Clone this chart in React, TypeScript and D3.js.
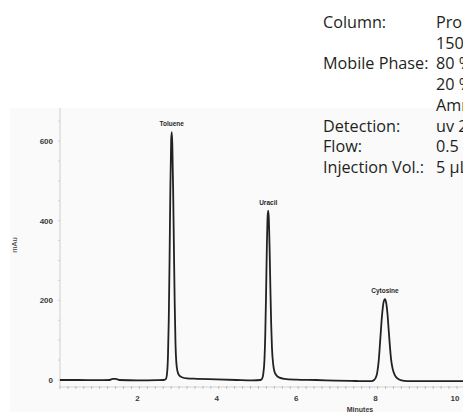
import React from "react";
import * as d3 from "d3";

// Chromatogram trace: retention time (min) and signal (mAU)
const traceTime = [
  0.05, 0.5, 1.0, 1.3, 1.38, 1.45, 1.55, 2.0, 2.5, 2.66, 2.72, 2.75, 2.77, 2.79, 2.81, 2.83, 2.85,
  2.865, 2.88, 2.9, 2.92, 2.94, 2.96, 2.98, 3.01, 3.05, 3.12, 3.25, 3.5, 4.0, 4.5, 4.9, 5.1, 5.14,
  5.17, 5.2, 5.22, 5.24, 5.26, 5.28, 5.295, 5.31, 5.33, 5.35, 5.37, 5.39, 5.42, 5.45, 5.5, 5.58,
  5.7, 6.0, 6.5, 7.0, 7.5, 7.9, 7.96, 8.0, 8.04, 8.08, 8.12, 8.16, 8.2, 8.235, 8.27, 8.3, 8.33,
  8.36, 8.39, 8.43, 8.48, 8.55, 8.65, 8.8, 9.5, 10.4,
];
const traceSignal = [
  0, 0, -0.5, 0, 3, 3, 0, -1, -0.5, 0, 3, 20, 60, 150, 300, 480, 600, 622, 590, 480, 330, 190, 90,
  45, 22, 12, 7, 4, 3, 1.5, 0, -1, 0, 3, 15, 50, 110, 210, 330, 410, 425, 405, 330, 230, 140, 80,
  40, 22, 12, 6, 3, 1, 0, -1.5, -2.5, -3, 0, 5, 18, 50, 105, 160, 195, 203, 192, 165, 125, 85, 52,
  28, 13, 4, -1, -3, -3, -3,
];

const peakNames = ["Toluene", "Uracil", "Cytosine"];
const peakTimes = [2.865, 5.295, 8.235];
const peakHeights = [622, 425, 203];

const xTicks = [2, 4, 6, 8, 10];
const yTicks = [0, 200, 400, 600];

const condLabels = ["Column:", "", "Mobile Phase:", "", "", "Detection:", "Flow:", "Injection Vol.:"];
const condValues = [
  "ProntoSIL",
  "150 x 4.6 mm",
  "80 % Acetonitrile",
  "20 % 10 mM",
  "Ammonium Acetate",
  "uv 254 nm",
  "0.5 mL/min",
  "5 µL",
];

export default function App() {
  const W = 463;
  const H = 412;
  const x = d3.scaleLinear().domain([0, 10]).range([58, 455]);
  const y = d3.scaleLinear().domain([0, 600]).range([380, 141]);

  const pts = traceTime.map((t, i) => [t, traceSignal[i]] as [number, number]);
  const line = d3
    .line<[number, number]>()
    .x((d) => x(d[0]))
    .y((d) => y(d[1]))
    .curve(d3.curveMonotoneX);

  const axisY = 387;
  const minorX = d3.range(0.05, 10.4, 0.2);

  return (
    <svg
      width={W}
      height={H}
      style={{ position: "absolute", left: 0, top: 0, background: "#fff" }}
    >
      <rect x={10} y={108} width={W - 10} height={H - 108} fill="#fafafa" />
      {/* y axis */}
      <line x1={60} x2={60} y1={108} y2={axisY} stroke="#cfcfcf" strokeWidth={1} />
      {d3.range(0, 680, 50).map((v) => (
        <line key={"ym" + v} x1={58} x2={60} y1={y(v)} y2={y(v)} stroke="#d0d0d0" />
      ))}
      {/* x axis */}
      <line x1={60} x2={W} y1={axisY} y2={axisY} stroke="#d4d4d4" strokeWidth={1} />
      {minorX.map((t, i) => (
        <line
          key={"xm" + i}
          x1={x(t)}
          x2={x(t)}
          y1={axisY - 1}
          y2={axisY + 2}
          stroke="#bdbdbd"
          strokeWidth={1}
        />
      ))}
      {xTicks.map((t) => (
        <text
          key={"xt" + t}
          x={x(t)}
          y={401}
          textAnchor="middle"
          fontFamily="Arial, Liberation Sans, sans-serif"
          fontWeight="bold"
          fontSize={8}
          fill="#3a3a3a"
        >
          {t}
        </text>
      ))}
      {yTicks.map((v) => (
        <text
          key={"yt" + v}
          x={53}
          y={y(v) + 3}
          textAnchor="end"
          fontFamily="Arial, Liberation Sans, sans-serif"
          fontWeight="bold"
          fontSize={8}
          fill="#3a3a3a"
        >
          {v}
        </text>
      ))}
      <text
        transform="translate(17,245) rotate(-90)"
        textAnchor="middle"
        fontFamily="Arial, Liberation Sans, sans-serif"
        fontSize={7.5}
        fill="#3a3a3a"
      >
        mAu
      </text>
      <text
        x={360}
        y={412}
        textAnchor="middle"
        fontFamily="Arial, Liberation Sans, sans-serif"
        fontWeight="bold"
        fontSize={7}
        fill="#3a3a3a"
      >
        Minutes
      </text>
      {/* trace */}
      <path d={line(pts) ?? ""} fill="none" stroke="#222" strokeWidth={1.8} strokeLinejoin="round" />
      {peakNames.map((n, i) => (
        <text
          key={n}
          x={x(peakTimes[i])}
          y={y(peakHeights[i]) - 6}
          textAnchor="middle"
          fontFamily="Arial, Liberation Sans, sans-serif"
          fontWeight="bold"
          fontSize={6.5}
          fill="#2a2a2a"
        >
          {n}
        </text>
      ))}
      {/* conditions */}
      {condLabels.map((l, i) => (
        <text
          key={"cl" + i}
          x={323}
          y={28 + i * 20.7}
          fontFamily="Open Sans, Noto Sans, sans-serif"
          fontSize={16.2}
          fill="#231f20"
        >
          {l}
        </text>
      ))}
      {condValues.map((v, i) => (
        <text
          key={"cv" + i}
          x={436}
          y={28 + i * 20.7}
          fontFamily="Open Sans, Noto Sans, sans-serif"
          fontSize={16.2}
          fill="#231f20"
        >
          {v}
        </text>
      ))}
    </svg>
  );
}
